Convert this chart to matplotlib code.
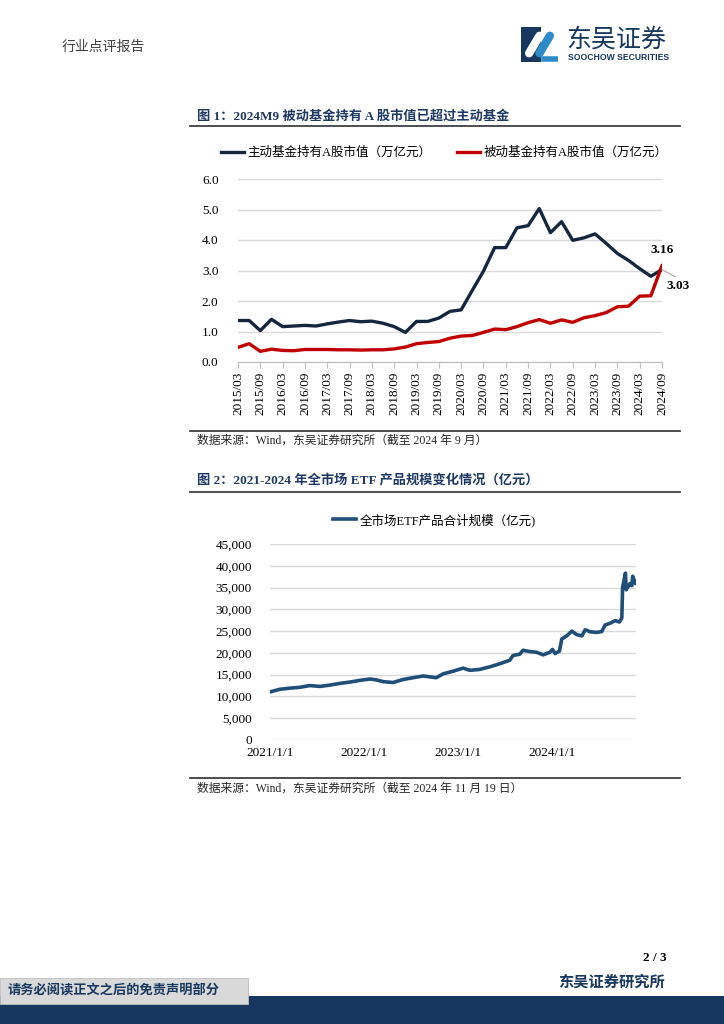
import numpy as np
import pandas as pd
import matplotlib
matplotlib.use('Agg')
import matplotlib.pyplot as plt
import matplotlib.dates as mdates
from matplotlib.lines import Line2D
from matplotlib.patches import Rectangle
from matplotlib.ticker import FuncFormatter

plt.rcParams['font.family'] = ['Liberation Serif', 'Noto Sans CJK SC']

# chart 1: quarterly holdings of A shares (trillion yuan)
quarters = [f'{y}/{m:02d}' for y in range(2015, 2025) for m in (3, 6, 9, 12)][:39]
active = [1.36, 1.36, 1.03, 1.40, 1.16, 1.18, 1.20, 1.18, 1.25, 1.31,
          1.36, 1.32, 1.34, 1.27, 1.16, 0.97, 1.33, 1.33, 1.44, 1.66,
          1.71, 2.35, 2.98, 3.75, 3.75, 4.40, 4.47, 5.03, 4.24, 4.60,
          3.99, 4.07, 4.20, 3.89, 3.56, 3.33, 3.06, 2.81, 3.03]
passive = [0.48, 0.60, 0.35, 0.42, 0.38, 0.37, 0.41, 0.41, 0.41, 0.40,
           0.40, 0.39, 0.40, 0.40, 0.43, 0.49, 0.60, 0.64, 0.67, 0.78,
           0.85, 0.87, 0.97, 1.08, 1.06, 1.16, 1.29, 1.39, 1.27, 1.38,
           1.30, 1.45, 1.52, 1.62, 1.81, 1.83, 2.16, 2.17, 3.16]

# chart 2: total ETF size (100 million yuan)
etf_dates = ['2021-01-04', '2021-02-08', '2021-03-19', '2021-04-27', '2021-06-04',
             '2021-07-14', '2021-08-21', '2021-09-29', '2021-11-07', '2021-12-16',
             '2022-01-24', '2022-02-18', '2022-03-16', '2022-04-23', '2022-06-02',
             '2022-07-10', '2022-08-18', '2022-09-13', '2022-10-08', '2022-11-04',
             '2022-12-13', '2023-01-20', '2023-02-15', '2023-03-25', '2023-05-04',
             '2023-06-11', '2023-07-20', '2023-08-02', '2023-08-28', '2023-09-10',
             '2023-10-06', '2023-11-01', '2023-11-27', '2023-12-23', '2024-01-02',
             '2024-01-12', '2024-01-29', '2024-02-07', '2024-02-26', '2024-03-17',
             '2024-04-05', '2024-04-25', '2024-05-08', '2024-05-27', '2024-06-22',
             '2024-07-11', '2024-07-24', '2024-08-12', '2024-09-01', '2024-09-18',
             '2024-09-27', '2024-09-30', '2024-10-11', '2024-10-14', '2024-10-28',
             '2024-11-05', '2024-11-08', '2024-11-12', '2024-11-19']
etf_size = [11090, 11640, 11900, 12100, 12500,
            12300, 12600, 13000, 13300, 13700,
            14000, 13800, 13400, 13200, 13900,
            14300, 14700, 14500, 14300, 15200,
            15800, 16500, 16000, 16200, 16800,
            17500, 18300, 19400, 19700, 20600,
            20300, 20150, 19550, 20150, 20800,
            19850, 20400, 23200, 23900, 25000,
            24200, 23900, 25300, 24850, 24700,
            24900, 26400, 26800, 27400, 27100,
            28000, 35000, 38300, 34500, 35900,
            35450, 37600, 37000, 36000]

W, H = 724, 1024
def fx(px):
    return px / W
def fy(py):
    return 1 - py / H

navy = '#1F3864'
fig = plt.figure(figsize=(7.24, 10.24), dpi=100)

# ---- page header ----
fig.text(fx(62), fy(47), '行业点评报告', fontsize=10, color='#404040', va='center', ha='left')
logo = fig.add_axes([fx(521), fy(62), fx(37), (62 - 27) / H])
logo.set_xlim(0, 1); logo.set_ylim(0, 1); logo.axis('off')
logo.add_patch(Rectangle((0, 0), 1, 1, facecolor='#17375E', edgecolor='none'))
logo.add_patch(Rectangle((0.55, 0), 0.45, 1, facecolor='white', edgecolor='none'))
logo.plot([0.22, 0.5], [0.25, 0.75], color='white', lw=6, solid_capstyle='round')
logo.plot([0.5, 0.78], [0.25, 0.75], color='#2E8BC9', lw=6, solid_capstyle='round')
logo.plot([0.62, 0.95], [0.1, 0.1], color='#2E8BC9', lw=4)
fig.text(fx(566), fy(40), '东吴证券', fontsize=18, color='#17375E', va='center', ha='left',
         family=['Noto Sans CJK SC'])
fig.text(fx(568), fy(58), 'SOOCHOW SECURITIES', fontsize=6.2, color='#17375E', va='center',
         ha='left', fontweight='bold', family=['Liberation Sans'])

def rule(py):
    fig.add_artist(Line2D([fx(190), fx(680)], [fy(py), fy(py)], color='#404040', lw=1.3))

# ---- figure 1 ----
fig.text(fx(197), fy(116), '图 1：2024M9 被动基金持有 A 股市值已超过主动基金', fontsize=9.5,
         fontweight='bold', color=navy, va='center', ha='left')
rule(126)

ax1 = fig.add_axes([fx(238), fy(362), (662 - 238) / W, (362 - 179) / H])
x = np.arange(len(quarters))
ax1.plot(x, active, color='#14273F', lw=2.4, label='主动基金持有A股市值（万亿元）')
ax1.plot(x, passive, color='#C00000', lw=2.4, label='被动基金持有A股市值（万亿元）')
ax1.set_xlim(0, len(quarters) - 1)
ax1.set_ylim(0, 6)
ax1.set_yticks(np.arange(0, 6.1, 1.0))
ax1.yaxis.set_major_formatter(FuncFormatter(lambda v, p: f'{v:.1f}'))
ax1.set_xticks(x[::2])
ax1.set_xticklabels(quarters[::2], rotation=90)
ax1.grid(axis='y', color='#D9D9D9', lw=1)
ax1.set_axisbelow(True)
for s in ['top', 'right', 'left']:
    ax1.spines[s].set_visible(False)
ax1.spines['bottom'].set_color('#BFBFBF')
ax1.tick_params(axis='y', length=0, pad=14, labelsize=9.5)
ax1.tick_params(axis='x', length=4, color='#BFBFBF', pad=3, labelsize=9.5)
ax1.annotate(f'{passive[-1]:.2f}', (x[-1], passive[-1]), xytext=(0, 11), textcoords='offset points',
             ha='center', va='center', fontsize=9.5, fontweight='bold', annotation_clip=False)
ax1.annotate(f'{active[-1]:.2f}', (x[-1], active[-1]), xytext=(11.5, -11.5), textcoords='offset points',
             ha='center', va='center', fontsize=9.5, fontweight='bold', annotation_clip=False,
             arrowprops=dict(arrowstyle='-', color='#A6A6A6', lw=0.8, shrinkA=0, shrinkB=0,
                             relpos=(0.6, 1.0)))
ax1.legend(ncol=2, loc='center', bbox_to_anchor=(fx(444), fy(153)), bbox_transform=fig.transFigure,
           frameon=False, fontsize=9, handlelength=1.9, handletextpad=0.25, columnspacing=2.0)

rule(431)
fig.text(fx(197), fy(441), '数据来源：Wind，东吴证券研究所（截至 2024 年 9 月）', fontsize=8.5,
         color='#262626', va='center', ha='left')

# ---- figure 2 ----
fig.text(fx(197), fy(481), '图 2：2021-2024 年全市场 ETF 产品规模变化情况（亿元）', fontsize=9.5,
         fontweight='bold', color=navy, va='center', ha='left')
rule(492)

ax2 = fig.add_axes([fx(270), fy(740), (636 - 270) / W, (740 - 544) / H])
d = pd.to_datetime(etf_dates)
ax2.plot(d, etf_size, color='#1F4E79', lw=2.6, label='全市场ETF产品合计规模（亿元)')
ax2.set_xlim(pd.Timestamp('2021-01-01'), pd.Timestamp('2024-11-21'))
ax2.set_ylim(0, 45000)
ax2.set_yticks(np.arange(0, 45001, 5000))
ax2.yaxis.set_major_formatter(FuncFormatter(lambda v, p: f'{v:,.0f}'))
ax2.set_xticks(pd.to_datetime(['2021-01-01', '2022-01-01', '2023-01-01', '2024-01-01']))
ax2.xaxis.set_major_formatter(FuncFormatter(lambda v, p: '{0}/1/1'.format(mdates.num2date(v).year)))
ax2.grid(axis='y', color='#D9D9D9', lw=1)
ax2.set_axisbelow(True)
for s in ['top', 'right', 'left', 'bottom']:
    ax2.spines[s].set_visible(False)
ax2.tick_params(axis='y', length=0, pad=13, labelsize=9.5)
ax2.tick_params(axis='x', length=0, pad=5, labelsize=9.5)
ax2.legend(loc='center', bbox_to_anchor=(fx(434), fy(520)), bbox_transform=fig.transFigure,
           frameon=False, fontsize=9, handlelength=1.9, handletextpad=0.25)

rule(778)
fig.text(fx(197), fy(789), '数据来源：Wind，东吴证券研究所（截至 2024 年 11 月 19 日）', fontsize=8.5,
         color='#262626', va='center', ha='left')

# ---- page footer ----
fig.text(fx(667), fy(958), '2 / 3', fontsize=9.5, fontweight='bold', va='center', ha='right')
fig.text(fx(665), fy(982), '东吴证券研究所', fontsize=11, fontweight='bold', color='#17375E',
         va='center', ha='right')
fig.patches.append(Rectangle((0, 0), 1, (1024 - 996) / H, transform=fig.transFigure,
                             facecolor='#17375E', edgecolor='none'))
fig.patches.append(Rectangle((0, fy(1004)), fx(248), 26 / H, transform=fig.transFigure,
                             facecolor='#D9D9D9', edgecolor='#BFBFBF', lw=0.6))
fig.text(fx(8), fy(991), '请务必阅读正文之后的免责声明部分', fontsize=9.5, fontweight='bold',
         color='#17375E', va='center', ha='left')

fig.savefig('out.png', dpi=100)
